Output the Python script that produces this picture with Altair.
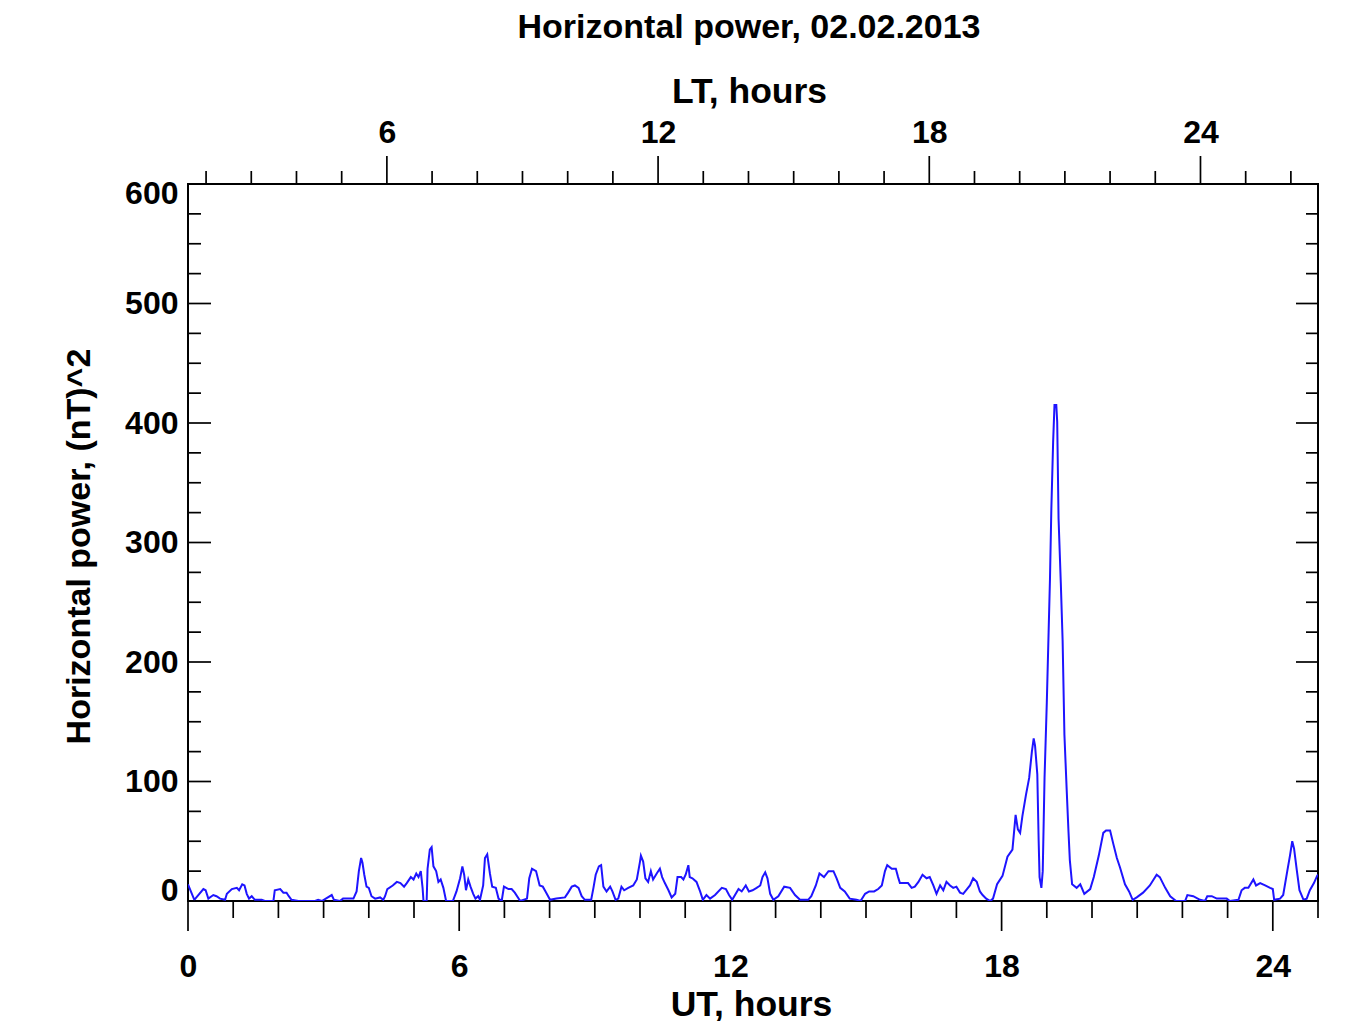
import altair as alt
import pandas as pd

# ---- data ----
UT = [0.00, 0.14, 0.34, 0.39, 0.45, 0.56, 0.63, 0.71, 0.82, 0.86, 0.97, 1.08, 1.13, 1.20, 1.25, 1.30, 1.35, 1.41, 1.48, 1.63,
      1.70, 1.89, 1.92, 2.04, 2.11, 2.18, 2.23, 2.29, 2.44, 2.81, 2.88, 2.96, 3.18, 3.23, 3.36, 3.43, 3.55, 3.66, 3.73, 3.78,
      3.83, 3.86, 3.90, 3.95, 4.00, 4.06, 4.14, 4.25, 4.32, 4.36, 4.41, 4.53, 4.62, 4.70, 4.78, 4.84, 4.93, 4.99, 5.05, 5.10,
      5.15, 5.19, 5.21, 5.28, 5.30, 5.35, 5.39, 5.43, 5.49, 5.54, 5.59, 5.65, 5.71, 5.86, 5.94, 6.02, 6.07, 6.11, 6.15, 6.20,
      6.25, 6.31, 6.36, 6.42, 6.46, 6.53, 6.57, 6.62, 6.68, 6.73, 6.81, 6.87, 6.94, 6.99, 7.09, 7.16, 7.23, 7.35, 7.50, 7.55,
      7.61, 7.70, 7.78, 7.85, 7.91, 8.01, 8.15, 8.34, 8.41, 8.49, 8.56, 8.64, 8.71, 8.78, 8.92, 8.97, 9.02, 9.09, 9.14, 9.19,
      9.26, 9.34, 9.39, 9.46, 9.52, 9.59, 9.65, 9.74, 9.85, 9.93, 10.00, 10.02, 10.07, 10.12, 10.18, 10.24, 10.29, 10.37, 10.44, 10.49,
      10.55, 10.63, 10.70, 10.78, 10.83, 10.91, 10.96, 11.01, 11.07, 11.10, 11.16, 11.25, 11.33, 11.39, 11.47, 11.55, 11.66, 11.81, 11.90, 11.97,
      12.04, 12.18, 12.25, 12.34, 12.41, 12.49, 12.58, 12.66, 12.71, 12.77, 12.82, 12.88, 12.95, 13.06, 13.19, 13.32, 13.43, 13.54, 13.72, 13.79,
      13.89, 13.97, 14.07, 14.17, 14.28, 14.35, 14.43, 14.53, 14.64, 14.79, 14.88, 14.98, 15.07, 15.18, 15.27, 15.35, 15.42, 15.47, 15.57, 15.66,
      15.71, 15.75, 15.86, 15.93, 16.01, 16.08, 16.16, 16.25, 16.34, 16.41, 16.49, 16.56, 16.64, 16.71, 16.78, 16.86, 16.93, 17.00, 17.08, 17.15,
      17.30, 17.37, 17.45, 17.52, 17.58, 17.66, 17.75, 17.81, 17.90, 18.02, 18.13, 18.24, 18.31, 18.36, 18.41, 18.46, 18.54, 18.61, 18.67, 18.71,
      18.74, 18.79, 18.82, 18.84, 18.88, 18.91, 18.95, 19.00, 19.04, 19.07, 19.10, 19.14, 19.17, 19.21, 19.23, 19.26, 19.31, 19.35, 19.39, 19.44,
      19.48, 19.51, 19.56, 19.66, 19.74, 19.83, 19.96, 20.04, 20.15, 20.25, 20.31, 20.40, 20.47, 20.55, 20.62, 20.73, 20.82, 20.90, 20.99, 21.13,
      21.28, 21.43, 21.50, 21.62, 21.73, 21.86, 22.06, 22.11, 22.24, 22.39, 22.50, 22.55, 22.65, 22.76, 22.98, 23.05, 23.24, 23.31, 23.38, 23.46,
      23.57, 23.63, 23.72, 23.83, 23.94, 24.00, 24.03, 24.16, 24.23, 24.32, 24.38, 24.43, 24.47, 24.53, 24.59, 24.68, 24.75, 24.82, 24.91, 24.98,
      25.00]
POWER = [14, 1, 10, 9, 2, 5, 4, 2, 1, 6, 10, 11, 9, 14, 13, 6, 2, 4, 1, 1,
         0, 0, 9, 10, 7, 7, 4, 1, 0, 0, 1, 0, 5, 1, 0, 2, 2, 2, 8, 25,
         36, 32, 22, 12, 11, 4, 2, 3, 1, 4, 10, 13, 16, 15, 12, 15, 20, 18, 23, 20,
         25, 11, 0, 0, 27, 43, 45, 29, 25, 16, 18, 11, 0, 0, 8, 19, 29, 22, 9, 18,
         12, 6, 2, 4, 1, 13, 36, 39, 23, 12, 11, 2, 0, 12, 10, 10, 7, 0, 2, 19,
         27, 25, 13, 12, 8, 1, 2, 3, 7, 12, 13, 11, 4, 1, 1, 11, 22, 29, 30, 12,
         8, 12, 8, 1, 2, 12, 9, 11, 13, 18, 33, 38, 33, 19, 16, 25, 18, 23, 27, 20,
         15, 9, 3, 6, 20, 20, 18, 22, 30, 20, 19, 16, 8, 1, 5, 2, 5, 11, 10, 5,
         1, 10, 8, 13, 8, 9, 11, 13, 20, 24, 19, 6, 1, 4, 12, 11, 5, 1, 1, 4,
         13, 23, 20, 25, 25, 19, 11, 8, 2, 1, 0, 6, 8, 8, 10, 13, 25, 30, 27, 27,
         20, 15, 15, 15, 11, 12, 16, 22, 19, 20, 13, 6, 13, 9, 16, 13, 11, 12, 7, 6,
         13, 19, 16, 8, 5, 2, 0, 2, 14, 21, 37, 43, 72, 60, 57, 71, 89, 103, 125, 136,
         130, 106, 50, 20, 11, 25, 103, 166, 225, 269, 327, 384, 415, 415, 401, 320, 266, 218, 139, 93,
         58, 34, 14, 11, 14, 6, 10, 20, 38, 57, 59, 59, 48, 36, 28, 14, 8, 1, 3, 7,
         13, 22, 20, 11, 4, 0, 0, 5, 4, 1, 0, 4, 4, 2, 2, 0, 1, 9, 11, 11,
         18, 13, 15, 13, 11, 10, 1, 2, 5, 25, 38, 50, 44, 26, 9, 1, 2, 9, 15, 21,
         22]

X_MAJOR = [0, 6, 12, 18, 24]
X_MINOR = [1, 2, 3, 4, 5, 7, 8, 9, 10, 11, 13, 14, 15, 16, 17, 19, 20, 21, 22, 23, 25]
LT_OFFSET = 1.6
LT_MAJOR = [6, 12, 18, 24]
LT_MINOR = [2, 3, 4, 5, 7, 8, 9, 10, 11, 13, 14, 15, 16, 17, 19, 20, 21, 22, 23, 25, 26]
Y_MAJOR = [0, 100, 200, 300, 400, 500, 600]
Y_MINOR = [25, 50, 75, 125, 150, 175, 225, 250, 275, 325, 350, 375, 425, 450, 475, 525, 550, 575]

TITLE = "Horizontal power, 02.02.2013"
X_TITLE = "UT, hours"
LT_TITLE = "LT, hours"
Y_TITLE = "Horizontal power, (nT)^2"

# ---- layout / style ----
W, H = 1130, 717
FONT = "Liberation Sans"
LABEL_SIZE = 32
TITLE_SIZE = 34
XTITLE_SIZE = 35.5
TICK_W = 1.7
LINE_COLOR = "#1e14ff"

XS = alt.Scale(domain=[0, 25], nice=False, zero=False)
YS = alt.Scale(domain=[0, 600], nice=False)

df = pd.DataFrame({"ut": UT, "p": POWER})
df_xmaj = pd.DataFrame({"ut": X_MAJOR})
df_xmin = pd.DataFrame({"ut": X_MINOR})
df_ltmaj = pd.DataFrame({"ut": [v - LT_OFFSET for v in LT_MAJOR]})
df_ltmin = pd.DataFrame({"ut": [v - LT_OFFSET for v in LT_MINOR]})
df_ymaj = pd.DataFrame({"v": Y_MAJOR})
df_ymin = pd.DataFrame({"v": Y_MINOR})

label_common = dict(
    labelFont=FONT, labelFontSize=LABEL_SIZE, labelFontWeight="bold", labelColor="black",
    titleFont=FONT, titleFontWeight="bold", titleColor="black",
    ticks=False, tickSize=0, domain=False, grid=False, labelOverlap=False,
)

line = alt.Chart(df).mark_line(color=LINE_COLOR, strokeWidth=2, clip=True).encode(
    x=alt.X("ut:Q", scale=XS, axis=alt.Axis(
        orient="bottom", values=X_MAJOR, format="d", labelPadding=50, labelFlush=False,
        title=X_TITLE, titleFontSize=XTITLE_SIZE, titleX=563, titleY=114,
        titleAlign="center", titleBaseline="alphabetic",
        **label_common)),
    y=alt.Y("p:Q", scale=YS, axis=alt.Axis(
        orient="left", values=Y_MAJOR, format="d", labelPadding=10,
        labelFlush=True, labelFlushOffset=6,
        title=Y_TITLE, titleFontSize=TITLE_SIZE, titleX=-99, titleY=362, titleAngle=270,
        titleAlign="center", titleBaseline="alphabetic", **label_common)),
)

rule = dict(color="black", strokeWidth=TICK_W)

top_major = alt.Chart(df_ltmaj).mark_rule(**rule).encode(
    x=alt.X("ut:Q", scale=XS, axis=alt.Axis(
        orient="top", values=[v - LT_OFFSET for v in LT_MAJOR],
        labelExpr=f"format(round(datum.value + {LT_OFFSET}), 'd')", labelPadding=35, labelFlush=False,
        title=LT_TITLE, titleFontSize=XTITLE_SIZE, titleX=561, titleY=-82,
        titleAlign="center", titleBaseline="alphabetic",
        **label_common)),
    y=alt.value(0), y2=alt.value(-28))
top_minor = alt.Chart(df_ltmin).mark_rule(**rule).encode(
    x=alt.X("ut:Q", scale=XS, axis=None), y=alt.value(0), y2=alt.value(-13))
bot_major = alt.Chart(df_xmaj).mark_rule(**rule).encode(
    x=alt.X("ut:Q", scale=XS, axis=None), y=alt.value(H), y2=alt.value(H + 30))
bot_minor = alt.Chart(df_xmin).mark_rule(**rule).encode(
    x=alt.X("ut:Q", scale=XS, axis=None), y=alt.value(H), y2=alt.value(H + 17))
left_major = alt.Chart(df_ymaj).mark_rule(**rule).encode(
    y=alt.Y("v:Q", scale=YS, axis=None), x=alt.value(0), x2=alt.value(23))
left_minor = alt.Chart(df_ymin).mark_rule(**rule).encode(
    y=alt.Y("v:Q", scale=YS, axis=None), x=alt.value(0), x2=alt.value(13))
right_major = alt.Chart(df_ymaj).mark_rule(**rule).encode(
    y=alt.Y("v:Q", scale=YS, axis=None), x=alt.value(W - 22), x2=alt.value(W))
right_minor = alt.Chart(df_ymin).mark_rule(**rule).encode(
    y=alt.Y("v:Q", scale=YS, axis=None), x=alt.value(W - 12), x2=alt.value(W))

chart = alt.layer(
    line, top_major, top_minor, bot_major, bot_minor,
    left_major, left_minor, right_major, right_minor,
).resolve_axis(x="independent", y="independent").properties(
    width=W, height=H,
    autosize=alt.AutoSizeParams(type="none"),
    padding={"left": 180, "top": 176, "right": 20, "bottom": 130},
    background="white",
    title=alt.TitleParams(TITLE, font=FONT, fontSize=TITLE_SIZE, fontWeight="bold", color="black",
                          anchor="middle", frame="group", offset=34, dx=-4, dy=5),
).configure_view(stroke="black", strokeWidth=2)

chart.save("out.html", embed_options={"renderer": "svg", "actions": False})
